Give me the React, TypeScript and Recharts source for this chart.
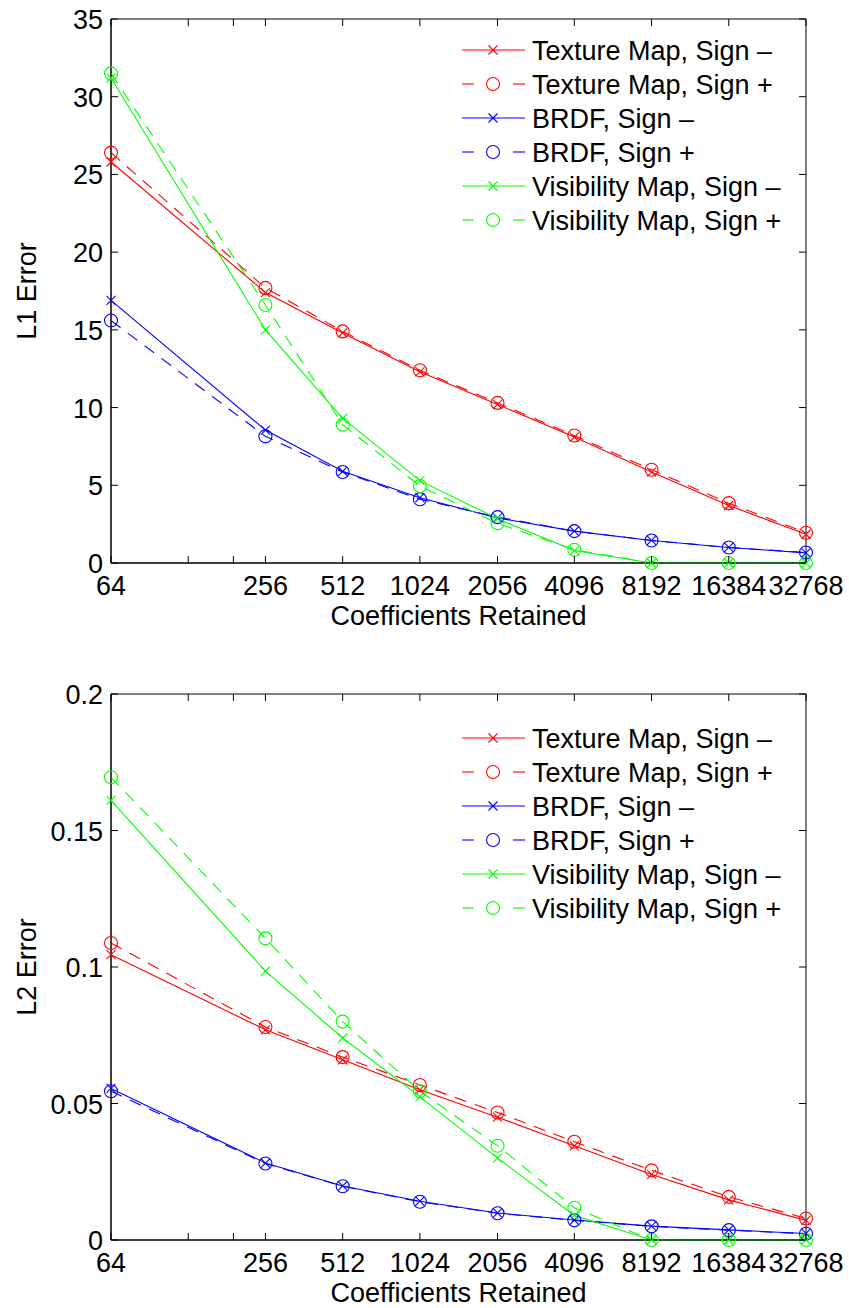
import React from 'react';
import { LineChart, Line, XAxis, YAxis, Legend, ReferenceArea } from 'recharts';

// coefficients retained (x axis)
const coefficients = [64, 256, 512, 1024, 2056, 4096, 8192, 16384, 32768];
const xTicks = [64, 128, 192, 256, 512, 1024, 2056, 4096, 8192, 16384, 32768];
const minorXTicks = [128, 192];

// L1 error
const l1TextureMinus = [25.8, 17.4, 14.8, 12.3, 10.2, 8.1, 5.85, 3.7, 1.85];
const l1TexturePlus = [26.4, 17.7, 14.9, 12.4, 10.3, 8.2, 6.0, 3.85, 1.95];
const l1BrdfMinus = [16.9, 8.55, 5.9, 4.2, 2.9, 2.05, 1.45, 1.0, 0.65];
const l1BrdfPlus = [15.6, 8.15, 5.85, 4.1, 2.95, 2.05, 1.45, 1.0, 0.68];
const l1VisMinus = [31.2, 15.0, 9.3, 5.3, 2.85, 0.8, 0, 0, 0];
const l1VisPlus = [31.5, 16.6, 8.9, 4.95, 2.55, 0.85, 0, 0, 0];
const l1Ticks = [0, 5, 10, 15, 20, 25, 30, 35];

// L2 error
const l2TextureMinus = [0.1045, 0.077, 0.066, 0.055, 0.045, 0.0345, 0.024, 0.0147, 0.0072];
const l2TexturePlus = [0.1088, 0.078, 0.067, 0.0568, 0.0467, 0.036, 0.0255, 0.0158, 0.0079];
const l2BrdfMinus = [0.0555, 0.0282, 0.0198, 0.0142, 0.0099, 0.0073, 0.0051, 0.0037, 0.0024];
const l2BrdfPlus = [0.0545, 0.028, 0.0197, 0.014, 0.0098, 0.0072, 0.005, 0.0036, 0.0023];
const l2VisMinus = [0.161, 0.0985, 0.074, 0.0525, 0.03, 0.009, 0, 0, 0];
const l2VisPlus = [0.1695, 0.1105, 0.08, 0.0545, 0.0345, 0.0118, 0, 0, 0];
const l2Ticks = [0, 0.05, 0.1, 0.15, 0.2];

const seriesNames = [
  'Texture Map, Sign \u2013',
  'Texture Map, Sign +',
  'BRDF, Sign \u2013',
  'BRDF, Sign +',
  'Visibility Map, Sign \u2013',
  'Visibility Map, Sign +',
];
const seriesKeys = ['texMinus', 'texPlus', 'brdfMinus', 'brdfPlus', 'visMinus', 'visPlus'];
const seriesColors = ['#ff0000', '#ff0000', '#0000ff', '#0000ff', '#00ff00', '#00ff00'];

const FONT = '"Liberation Sans", Arial, Helvetica, sans-serif';
const FONT_SIZE = 27;
const TICK_LEN = 7;
const W = 849;
const H = 654;
const PLOT_LEFT = 111;
const PLOT_RIGHT = 806;

const isPlus = (i: number) => i % 2 === 1;

const Marker = ({ cx, cy, plus, color }: { cx: number; cy: number; plus: boolean; color: string }) => {
  if (plus) {
    return <circle cx={cx} cy={cy} r={6.5} fill="none" stroke={color} strokeWidth={1.1} />;
  }
  const s = 4.5;
  return (
    <g stroke={color} strokeWidth={1.1}>
      <line x1={cx - s} y1={cy - s} x2={cx + s} y2={cy + s} />
      <line x1={cx - s} y1={cy + s} x2={cx + s} y2={cy - s} />
    </g>
  );
};

const LegendBox = () => (
  <svg width={360} height={seriesNames.length * 34} style={{ display: 'block', overflow: 'visible' }}>
    {seriesNames.map((name, i) => {
      const cy = 17 + i * 34;
      const color = seriesColors[i];
      return (
        <g key={name}>
          {isPlus(i) ? (
            <>
              <line x1={7} y1={cy} x2={19} y2={cy} stroke={color} strokeWidth={1.1} />
              <line x1={58} y1={cy} x2={70} y2={cy} stroke={color} strokeWidth={1.1} />
            </>
          ) : (
            <line x1={7} y1={cy} x2={70} y2={cy} stroke={color} strokeWidth={1.1} />
          )}
          <Marker cx={38} cy={cy} plus={isPlus(i)} color={color} />
          <text x={77} y={cy + 10} fontFamily={FONT} fontSize={FONT_SIZE} fill="#000">
            {name}
          </text>
        </g>
      );
    })}
  </svg>
);

interface ErrorPlotProps {
  series: number[][];
  yTicks: number[];
  yLabel: string;
  top: number;
  plotTop: number;
  plotBottom: number;
  legendTop: number;
}

const ErrorPlot: React.FC<ErrorPlotProps> = ({ series, yTicks, yLabel, top, plotTop, plotBottom, legendTop }) => {
  const data = coefficients.map((c, i) => {
    const row: any = { x: c };
    seriesKeys.forEach((k, j) => {
      row[k] = series[j][i];
    });
    return row;
  });
  const yMax = yTicks[yTicks.length - 1];
  const plotHeight = plotBottom - plotTop;
  const plotWidth = PLOT_RIGHT - PLOT_LEFT;

  const XTick = ({ x, y, payload }: any) => {
    const v = payload.value;
    return (
      <g>
        <line x1={x} y1={y} x2={x} y2={y - TICK_LEN} stroke="#000" />
        <line x1={x} y1={y - plotHeight} x2={x} y2={y - plotHeight + TICK_LEN} stroke="#000" />
        {!minorXTicks.includes(v) && (
          <text x={x} y={y + 32} textAnchor="middle" fontFamily={FONT} fontSize={FONT_SIZE} fill="#000">
            {v}
          </text>
        )}
      </g>
    );
  };

  const YTick = ({ x, y, payload }: any) => (
    <g>
      <line x1={x} y1={y} x2={x + TICK_LEN} y2={y} stroke="#000" />
      <line x1={x + plotWidth} y1={y} x2={x + plotWidth - TICK_LEN} y2={y} stroke="#000" />
      <text x={x - 8} y={y + 10} textAnchor="end" fontFamily={FONT} fontSize={FONT_SIZE} fill="#000">
        {String(payload.value)}
      </text>
    </g>
  );

  const XLabel = ({ viewBox }: any) => (
    <text
      x={PLOT_LEFT + plotWidth / 2}
      y={viewBox.y + 62}
      textAnchor="middle"
      fontFamily={FONT}
      fontSize={FONT_SIZE}
      fill="#000"
    >
      Coefficients Retained
    </text>
  );

  const YLabel = () => (
    <text
      transform={`translate(36,${plotTop + plotHeight / 2}) rotate(-90)`}
      textAnchor="middle"
      fontFamily={FONT}
      fontSize={FONT_SIZE}
      fill="#000"
    >
      {yLabel}
    </text>
  );

  return (
    <div style={{ position: 'absolute', left: 0, top }}>
      <LineChart
        width={W}
        height={H}
        data={data}
        margin={{ top: plotTop, right: W - PLOT_RIGHT, bottom: 0, left: 0 }}
      >
        <XAxis
          dataKey="x"
          type="number"
          scale="log"
          domain={[64, 32768]}
          ticks={xTicks}
          interval={0}
          height={H - plotBottom}
          tickSize={0}
          tickMargin={0}
          tickLine={false}
          axisLine={{ stroke: '#000' }}
          tick={<XTick />}
          label={<XLabel />}
        />
        <YAxis
          type="number"
          domain={[0, yMax]}
          ticks={yTicks}
          interval={0}
          width={PLOT_LEFT}
          tickSize={0}
          tickMargin={0}
          tickLine={false}
          axisLine={{ stroke: '#000' }}
          tick={<YTick />}
          label={<YLabel />}
        />
        <ReferenceArea x1={64} x2={32768} y1={0} y2={yMax} fill="none" stroke="#000" strokeWidth={1} />
        {seriesKeys.map((k, i) => (
          <Line
            key={k}
            type="linear"
            dataKey={k}
            name={seriesNames[i]}
            stroke={seriesColors[i]}
            strokeWidth={1.1}
            strokeDasharray={isPlus(i) ? '12 9' : undefined}
            dot={(p: any) => (
              <Marker key={`${k}-${p.index}`} cx={p.cx} cy={p.cy} plus={isPlus(i)} color={seriesColors[i]} />
            )}
            activeDot={false}
            isAnimationActive={false}
          />
        ))}
        <Legend
          layout="vertical"
          align="center"
          verticalAlign="middle"
          content={<LegendBox />}
          wrapperStyle={{ left: 455, top: legendTop, width: 360 }}
        />
      </LineChart>
    </div>
  );
};

export default function App() {
  return (
    <div style={{ position: 'absolute', left: 0, top: 0, width: W, height: 1308, background: '#fff' }}>
      <ErrorPlot
        series={[l1TextureMinus, l1TexturePlus, l1BrdfMinus, l1BrdfPlus, l1VisMinus, l1VisPlus]}
        yTicks={l1Ticks}
        yLabel="L1 Error"
        top={0}
        plotTop={19}
        plotBottom={563}
        legendTop={33}
      />
      <ErrorPlot
        series={[l2TextureMinus, l2TexturePlus, l2BrdfMinus, l2BrdfPlus, l2VisMinus, l2VisPlus]}
        yTicks={l2Ticks}
        yLabel="L2 Error"
        top={H}
        plotTop={40}
        plotBottom={586}
        legendTop={67}
      />
    </div>
  );
}
